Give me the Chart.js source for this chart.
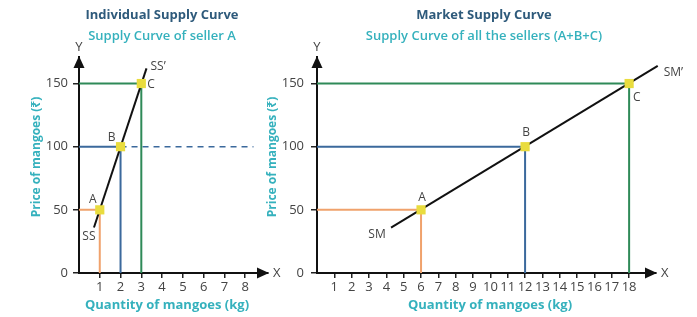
<!DOCTYPE html>
<html>
<head>
<meta charset="utf-8">
<script src="https://cdn.jsdelivr.net/npm/chart.js@4.4.1/dist/chart.umd.min.js"></script>
<style>
  html, body { margin: 0; padding: 0; background: #ffffff; }
  body { width: 697px; height: 317px; position: relative; overflow: hidden; }
  canvas { position: absolute; top: 0; }
  #left { left: 0; }
  #right { left: 250px; }
</style>
</head>
<body>
<canvas id="left" width="290" height="317"></canvas>
<canvas id="right" width="447" height="317"></canvas>
<script>
// ---------- DATA ----------
const pointNames = ['A', 'B', 'C'];
const leftPtsX = [1, 2, 3];          // kg supplied by seller A
const leftPtsY = [50, 100, 150];     // price (₹)
const rightPtsX = [6, 12, 18];       // kg supplied by all sellers
const rightPtsY = [50, 100, 150];
const ssX = [0.72, 3.25];            // SS – SS' line ends
const ssY = [36, 162];
const smX = [4.27, 19.65];           // SM – SM' line ends
const smY = [36, 164];
const dashX = [2, 8.4];              // dashed price line at 100
const dashY = [100, 100];
const leftXTicks = [1, 2, 3, 4, 5, 6, 7, 8];
const rightXTicks = [1, 2, 3, 4, 5, 6, 7, 8, 9, 10, 11, 12, 13, 14, 15, 16, 17, 18];
const yTicks = [0, 50, 100, 150];

// ---------- STYLE ----------
const FONT = "'Open Sans', 'Noto Sans', sans-serif";
const C_ORANGE = '#f0a26c';
const C_BLUE = '#3b699c';
const C_GREEN = '#2f8a58';
const C_YELLOW = '#e9dc3e';
const C_TITLE = '#2e5a7b';
const C_TEAL = '#35b1bd';
const C_TEXT = '#444444';
const guideColors = [C_ORANGE, C_BLUE, C_GREEN];

function pts(xs, ys) { return xs.map((x, i) => ({ x: x, y: ys[i] })); }
function guide(x, y) { return [{ x: 0, y: y }, { x: x, y: y }, { x: x, y: 0 }]; }

function buildDatasets(px, py, lineX, lineY, extra) {
  const ds = [];
  ds.push({ data: pts(px, py), showLine: false, pointStyle: 'rect', pointRadius: 6.5,
            pointBackgroundColor: C_YELLOW, pointBorderWidth: 0, clip: false });
  ds.push({ data: pts(lineX, lineY), showLine: true, borderColor: '#111', borderWidth: 2,
            pointRadius: 0, clip: false });
  px.forEach((x, i) => {
    ds.push({ data: guide(x, py[i]), showLine: true, borderColor: guideColors[i], borderWidth: 2,
              pointRadius: 0, clip: false });
  });
  if (extra) ds.push(extra);
  return ds;
}

const decoPlugin = {
  id: 'deco',
  afterDraw(chart, args, o) {
    const ctx = chart.ctx, a = chart.chartArea;
    const xs = chart.scales.x, ys = chart.scales.y;
    ctx.save();
    // arrow heads
    ctx.fillStyle = '#111';
    ctx.beginPath();
    ctx.moveTo(a.right + 1, a.bottom);
    ctx.lineTo(a.right - 11, a.bottom - 5.5);
    ctx.lineTo(a.right - 11, a.bottom + 5.5);
    ctx.closePath(); ctx.fill();
    ctx.beginPath();
    ctx.moveTo(a.left, a.top - 1);
    ctx.lineTo(a.left - 5.5, a.top + 11);
    ctx.lineTo(a.left + 5.5, a.top + 11);
    ctx.closePath(); ctx.fill();
    // X / Y letters
    ctx.fillStyle = C_TEXT;
    ctx.font = '13px ' + FONT;
    ctx.textBaseline = 'middle';
    ctx.textAlign = 'left';
    ctx.fillText('X', a.right + 5, a.bottom);
    ctx.textAlign = 'center';
    ctx.fillText('Y', a.left, a.top - 10);
    // titles
    ctx.font = 'bold 13px ' + FONT;
    ctx.fillStyle = C_TITLE;
    ctx.fillText(o.title, o.titleX, 15);
    ctx.font = '600 13px ' + FONT;
    ctx.fillStyle = C_TEAL;
    ctx.fillText(o.subtitle, o.titleX, 36);
    // axis titles
    ctx.font = 'bold 13px ' + FONT;
    ctx.fillText('Quantity of mangoes (kg)', o.xTitleX, 305);
    ctx.save();
    ctx.translate(o.yTitleX, 157);
    ctx.rotate(-Math.PI / 2);
    ctx.font = 'bold 12px ' + FONT;
    ctx.fillText('Price of mangoes (₹)', 0, 0);
    ctx.restore();
    // point & line labels
    ctx.font = '12px ' + FONT;
    ctx.fillStyle = C_TEXT;
    o.labels.forEach(l => {
      ctx.textAlign = l.align || 'center';
      ctx.fillText(l.text, xs.getPixelForValue(l.x) + l.dx, ys.getPixelForValue(l.y) + l.dy);
    });
    ctx.restore();
  }
};

function makeScales(xmax, xTicks, yWidth, yPad) {
  const tickFont = { family: FONT, size: 13 };
  return {
    x: {
      type: 'linear', min: 0, max: xmax,
      afterBuildTicks: s => { s.ticks = xTicks.map(v => ({ value: v })); },
      afterFit: s => { s.height = 30; },
      grid: { display: true, drawOnChartArea: false, drawTicks: true, tickLength: 5, color: '#222', lineWidth: 1.5 },
      border: { display: true, color: '#111', width: 2 },
      ticks: { color: C_TEXT, font: tickFont, padding: 1, autoSkip: false, maxRotation: 0,
               callback: v => String(v) }
    },
    y: {
      type: 'linear', min: 0, max: 171,
      afterBuildTicks: s => { s.ticks = yTicks.map(v => ({ value: v })); },
      afterFit: s => { s.width = yWidth; },
      grid: { display: true, drawOnChartArea: false, drawTicks: true, tickLength: 6, color: '#222', lineWidth: 1.5 },
      border: { display: true, color: '#111', width: 2 },
      ticks: { color: C_TEXT, font: tickFont, padding: yPad, callback: v => String(v) }
    }
  };
}

const common = {
  responsive: false, animation: false, devicePixelRatio: 1,
  events: []
};

// ---------- LEFT: Individual supply ----------
new Chart(document.getElementById('left'), {
  type: 'scatter',
  data: {
    datasets: buildDatasets(leftPtsX, leftPtsY, ssX, ssY, {
      data: pts(dashX, dashY), showLine: true, borderColor: C_BLUE, borderWidth: 1.5,
      borderDash: [6, 5], pointRadius: 0, clip: false
    })
  },
  options: Object.assign({}, common, {
    layout: { padding: { left: 30, right: 22, top: 57, bottom: 14 } },
    scales: makeScales(9.1, leftXTicks, 49, 5),
    plugins: {
      legend: { display: false }, tooltip: { enabled: false },
      deco: {
        title: 'Individual Supply Curve', subtitle: 'Supply Curve of seller A',
        titleX: 162, xTitleX: 167, yTitleX: 37,
        labels: [
          { text: pointNames[0], x: leftPtsX[0], y: leftPtsY[0], dx: -7, dy: -10 },
          { text: pointNames[1], x: leftPtsX[1], y: leftPtsY[1], dx: -9, dy: -9 },
          { text: pointNames[2], x: leftPtsX[2], y: leftPtsY[2], dx: 6, dy: 1, align: 'left' },
          { text: 'SS', x: ssX[0], y: ssY[0], dx: -5, dy: 9 },
          { text: 'SS\u2019', x: ssX[1], y: ssY[1], dx: 4, dy: -2, align: 'left' }
        ]
      }
    }
  }),
  plugins: [decoPlugin]
});

// ---------- RIGHT: Market supply ----------
new Chart(document.getElementById('right'), {
  type: 'scatter',
  data: { datasets: buildDatasets(rightPtsX, rightPtsY, smX, smY, null) },
  options: Object.assign({}, common, {
    layout: { padding: { left: 30, right: 41, top: 57, bottom: 14 } },
    scales: makeScales(19.55, rightXTicks, 37, 7),
    plugins: {
      legend: { display: false }, tooltip: { enabled: false },
      deco: {
        title: 'Market Supply Curve', subtitle: 'Supply Curve of all the sellers (A+B+C)',
        titleX: 234, xTitleX: 240, yTitleX: 23,
        labels: [
          { text: pointNames[0], x: rightPtsX[0], y: rightPtsY[0], dx: 1, dy: -12 },
          { text: pointNames[1], x: rightPtsX[1], y: rightPtsY[1], dx: 1, dy: -14 },
          { text: pointNames[2], x: rightPtsX[2], y: rightPtsY[2], dx: 4, dy: 14, align: 'left' },
          { text: 'SM', x: smX[0], y: smY[0], dx: -14, dy: 7 },
          { text: 'SM\u2019', x: smX[1], y: smY[1], dx: 6, dy: 7, align: 'left' }
        ]
      }
    }
  }),
  plugins: [decoPlugin]
});
</script>
</body>
</html>
